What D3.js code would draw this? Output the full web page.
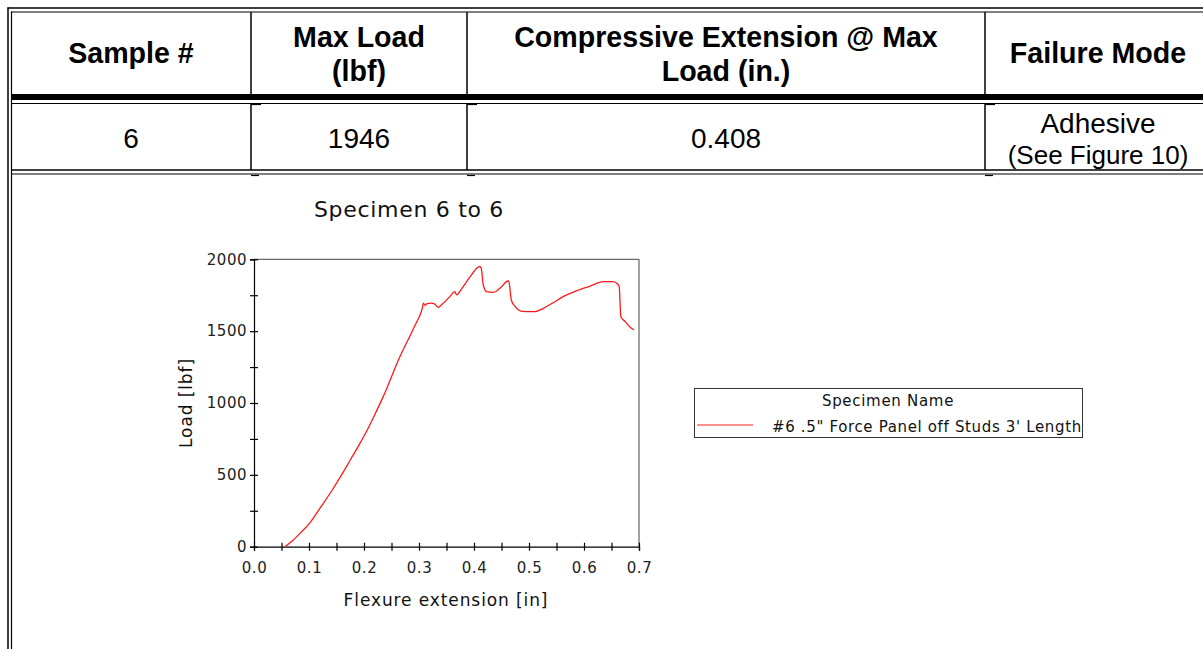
<!DOCTYPE html>
<html><head><meta charset="utf-8">
<script src="https://cdn.jsdelivr.net/npm/d3@7"></script>
<style>html,body{margin:0;padding:0;background:#fff;}svg{display:block;}</style>
</head><body>
<svg id="c" width="1203" height="649"></svg>
<script>
// ---- data ----
const headers = [["Sample #"], ["Max Load", "(lbf)"], ["Compressive Extension @ Max", "Load (in.)"], ["Failure Mode"]];
const rowValues = [["6"], ["1946"], ["0.408"], ["Adhesive", "(See Figure 10)"]];
const chartTitle = "Specimen 6 to 6";
const seriesName = "#6 .5\" Force Panel off Studs 3' Length";
const extension = [0.056,0.07,0.085,0.102,0.12,0.144,0.16,0.1745,0.19,0.205,0.22,0.232,0.241,0.25,0.265,0.275,0.284,0.29,0.296,0.302,0.306,0.308,0.311,0.314,0.322,0.328,0.335,0.34,0.356,0.365,0.3685,0.378,0.393,0.405,0.408,0.41,0.413,0.4169,0.423,0.435,0.447,0.462,0.463,0.468,0.475,0.487,0.511,0.526,0.544,0.562,0.587,0.611,0.635,0.653,0.661,0.664,0.667,0.675,0.684,0.691];
const load = [0,42,98,168,268,405,505,600,702,805,922,1020,1098,1183,1320,1400,1470,1518,1566,1612,1660,1694,1680,1690,1695,1690,1665,1680,1740,1775,1752,1798,1879,1938,1946,1950,1940,1821,1775,1770,1798,1849,1849,1715,1670,1638,1636,1659,1698,1740,1782,1814,1844,1844,1828,1810,1601,1566,1527,1508];
const xTicks = [0,0.05,0.1,0.15,0.2,0.25,0.3,0.35,0.4,0.45,0.5,0.55,0.6,0.65,0.7];
const yTicks = [0,250,500,750,1000,1250,1500,1750,2000];

const svg = d3.select("#c");
svg.append("rect").attr("width",1203).attr("height",649).attr("fill","#fff");

// ---- table ----
const colX = [11, 251, 467, 985, 1211];
const T = svg.append("g");
function hl(y, x1, x2, w){ T.append("line").attr("x1",x1).attr("x2",x2).attr("y1",y).attr("y2",y).attr("stroke","#000").attr("stroke-width",w); }
function vl(x, y1, y2, w){ T.append("line").attr("x1",x).attr("x2",x).attr("y1",y1).attr("y2",y2).attr("stroke","#000").attr("stroke-width",w); }
hl(8, 7.5, 1203, 1.5); hl(12, 11, 1203, 1.2);
vl(8, 7.5, 649, 1.5); vl(11.5, 11.5, 649, 1.2);
T.append("rect").attr("x",11).attr("y",94).attr("width",1192).attr("height",6).attr("fill","#000");
hl(103.5, 11, 1203, 1.2);
hl(170, 11, 1203, 1.5); hl(174, 11, 1203, 1.2);
[1,2,3].forEach(i=>{ vl(colX[i], 12, 94, 1.5); vl(colX[i], 103.5, 170, 1.5); });
[1,2,3].forEach(i=>{ hl(104.5, colX[i], colX[i]+10, 1.2); hl(175.5, colX[i], colX[i]+8, 1.2); });

const tf = "'Liberation Sans', Arial, sans-serif";
headers.forEach((h,i)=>{
  const cx = (colX[i]+colX[i+1])/2;
  const ys = h.length===1 ? [63] : [47, 81];
  h.forEach((t,j)=>T.append("text").attr("x",cx).attr("y",ys[j]).attr("text-anchor","middle")
    .attr("font-family",tf).attr("font-weight","bold").attr("font-size",28.6).attr("fill","#000").text(t));
});
rowValues.forEach((r,i)=>{
  const cx = (colX[i]+colX[i+1])/2;
  if(r.length===1){
    T.append("text").attr("x",cx).attr("y",148).attr("text-anchor","middle").attr("font-family",tf).attr("font-size",28).text(r[0]);
  } else {
    T.append("text").attr("x",cx).attr("y",133).attr("text-anchor","middle").attr("font-family",tf).attr("font-size",28).text(r[0]);
    T.append("text").attr("x",cx).attr("y",164).attr("text-anchor","middle").attr("font-family",tf).attr("font-size",26).text(r[1]);
  }
});

// ---- chart ----
const cf = "'DejaVu Sans', Verdana, sans-serif";
const x = d3.scaleLinear().domain([0,0.7]).range([254,639]);
const y = d3.scaleLinear().domain([0,2000]).range([546.7,259.3]);
const G = svg.append("g");

G.append("text").attr("x",409).attr("y",217).attr("text-anchor","middle").attr("font-family",cf).attr("font-size",22).attr("letter-spacing",0.7).attr("fill","#111").text(chartTitle);

// frame top/right
G.append("line").attr("x1",x(0)).attr("x2",x(0.7)).attr("y1",y(2000)).attr("y2",y(2000)).attr("stroke","#444").attr("stroke-width",1);
G.append("line").attr("x1",x(0.7)).attr("x2",x(0.7)).attr("y1",y(2000)).attr("y2",y(0)).attr("stroke","#444").attr("stroke-width",1);

const xa = G.append("g").attr("transform",`translate(0,${y(0)})`)
  .call(d3.axisBottom(x).tickValues(xTicks).tickSize(4)
    .tickFormat(d=>Math.round(d*100)%10===0 ? d3.format(".1f")(d) : ""));
const ya = G.append("g").attr("transform",`translate(${x(0)},0)`)
  .call(d3.axisLeft(y).tickValues(yTicks).tickSize(4)
    .tickFormat(d=>d%500===0 ? d : ""));
[xa,ya].forEach(a=>{
  a.select(".domain").attr("stroke","#000").attr("stroke-width",1.2);
  a.selectAll(".tick line").attr("stroke","#000").attr("stroke-width",1.2);
  a.selectAll("text").attr("font-family",cf).attr("font-size",15).attr("letter-spacing",0.5).attr("fill","#222");
});
xa.selectAll(".tick line").attr("y1",-4).attr("y2",4);
ya.selectAll(".tick line").attr("x1",4).attr("x2",-4);
xa.selectAll("text").attr("dy","0.71em").attr("y",16);
ya.selectAll("text").attr("x",-7);

G.append("text").attr("x",446).attr("y",606).attr("text-anchor","middle").attr("font-family",cf).attr("font-size",17).attr("letter-spacing",0.9).attr("fill","#111").text("Flexure extension [in]");
G.append("text").attr("transform","translate(192,403) rotate(-90)").attr("text-anchor","middle").attr("font-family",cf).attr("font-size",17).attr("letter-spacing",0.9).attr("fill","#111").text("Load [lbf]");

const pts = extension.map((e,i)=>[e, load[i]]);
G.append("path").datum(pts).attr("fill","none").attr("stroke","#ff1a1a").attr("stroke-width",1.3)
  .attr("d", d3.line().x(d=>x(d[0])).y(d=>y(d[1])).curve(d3.curveMonotoneX));

// legend
const L = G.append("g");
L.append("rect").attr("x",694.5).attr("y",388.5).attr("width",388).attr("height",49).attr("fill","#fff").attr("stroke","#333").attr("stroke-width",1);
L.append("text").attr("x",888).attr("y",406).attr("text-anchor","middle").attr("font-family",cf).attr("font-size",15).attr("letter-spacing",0.7).attr("fill","#111").text("Specimen Name");
L.append("line").attr("x1",697).attr("x2",753).attr("y1",425).attr("y2",425).attr("stroke","#ff6b6b").attr("stroke-width",1.3);
L.append("text").attr("x",772).attr("y",432).attr("font-family",cf).attr("font-size",15).attr("letter-spacing",0.65).attr("fill","#111").text(seriesName);
</script>
</body></html>
